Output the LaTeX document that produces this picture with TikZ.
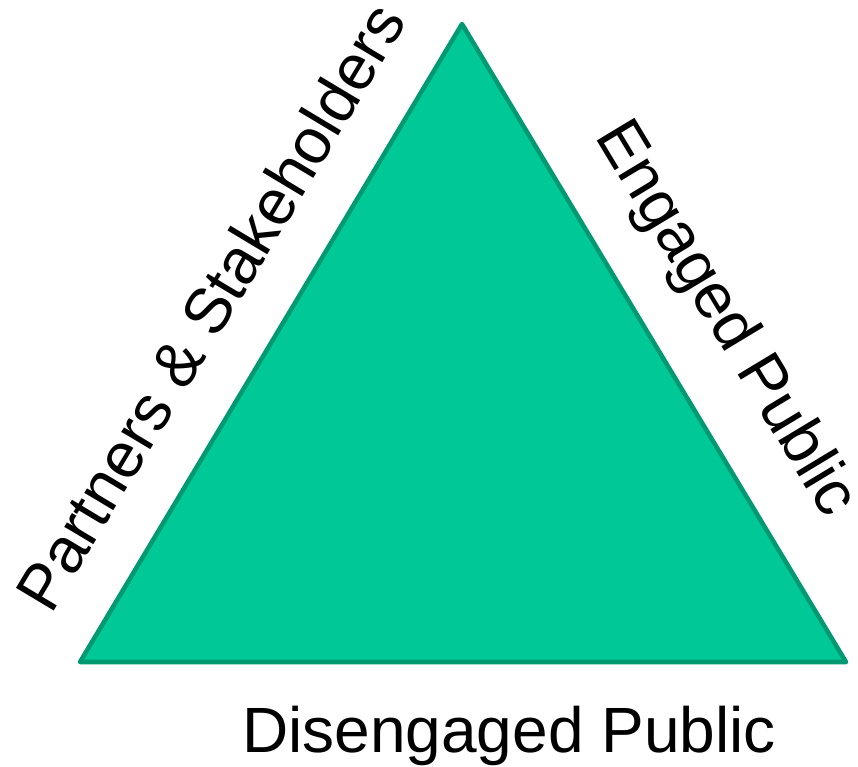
\documentclass[tikz,border=0pt]{standalone}
\usepackage{fontspec}
\setmainfont{Liberation Sans}
\definecolor{trifill}{RGB}{0,201,151}
\definecolor{triline}{RGB}{0,153,113}
\tikzset{
    tri/.style={fill=trifill, draw=triline, line width=3.4pt, line join=round},
    lbl/.style={font=\fontsize{48}{56}\selectfont, inner sep=0pt, anchor=base}
}

\begin{document}
\begin{tikzpicture}[x=0.75pt, y=-0.75pt]
            \useasboundingbox (0,0) rectangle (858,767);
            \coordinate (apex) at (462, 24);
            \coordinate (left) at (80, 662);
            \coordinate (right) at (846, 662);
            \draw[tri] (apex) -- (left) -- (right) -- cycle;
            \node[lbl, rotate=59.05] (partners) at (230, 318) {Partners \& Stakeholders};
            \node[lbl, rotate=-58.9] (engaged) at (710, 328) {Engaged Public};
            \node[lbl] (disengaged) at (509, 752) {Disengaged Public};
    \end{tikzpicture}
\end{document}
